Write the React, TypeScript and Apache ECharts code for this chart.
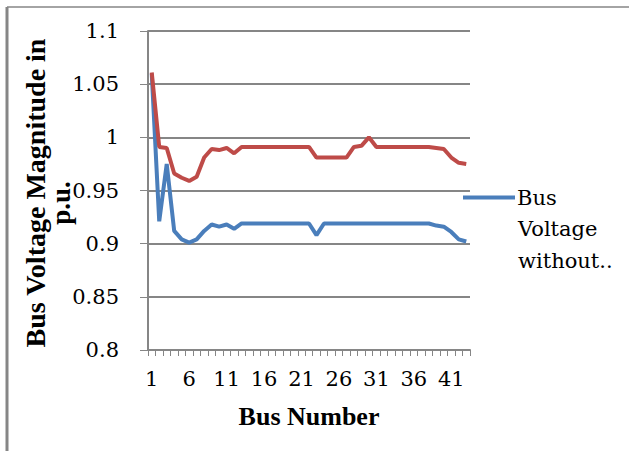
import React, { useEffect, useRef } from "react";
import * as echarts from "echarts";

const busNumbers: string[] = [
  "1", "2", "3", "4", "5", "6", "7", "8", "9", "10",
  "11", "12", "13", "14", "15", "16", "17", "18", "19", "20",
  "21", "22", "23", "24", "25", "26", "27", "28", "29", "30",
  "31", "32", "33", "34", "35", "36", "37", "38", "39", "40",
  "41", "42", "43",
];

const voltageWithout: number[] = [
  1.06, 0.921, 0.975, 0.912, 0.904, 0.901, 0.904, 0.912, 0.918, 0.916,
  0.918, 0.914, 0.919, 0.919, 0.919, 0.919, 0.919, 0.919, 0.919, 0.919,
  0.919, 0.919, 0.908, 0.919, 0.919, 0.919, 0.919, 0.919, 0.919, 0.919,
  0.919, 0.919, 0.919, 0.919, 0.919, 0.919, 0.919, 0.919, 0.917, 0.916,
  0.911, 0.904, 0.902,
];

const voltageWith: number[] = [
  1.061, 0.991, 0.99, 0.966, 0.962, 0.959, 0.963, 0.981, 0.989, 0.988,
  0.99, 0.985, 0.991, 0.991, 0.991, 0.991, 0.991, 0.991, 0.991, 0.991,
  0.991, 0.991, 0.981, 0.981, 0.981, 0.981, 0.981, 0.991, 0.992, 1.0,
  0.991, 0.991, 0.991, 0.991, 0.991, 0.991, 0.991, 0.991, 0.99, 0.989,
  0.981, 0.976, 0.975,
];

const FONT = "DejaVu Serif";
const FONT_BOLD = "Liberation Serif";
const GRAY = "#868686";

export default function App() {
  const ref = useRef<HTMLDivElement>(null);
  useEffect(() => {
    if (!ref.current) return;
    const chart = echarts.init(ref.current, undefined, { renderer: "svg" });
    chart.setOption({
      animation: false,
      backgroundColor: "#ffffff",
      grid: { left: 148, right: 159, top: 31, bottom: 101, containLabel: false },
      legend: {
        data: [{ name: "Bus Voltage without DG", icon: "rect" }],
        left: 463,
        top: 187,
        padding: 0,
        itemWidth: 52,
        itemHeight: 4,
        itemGap: 0,
        formatter: () => "Bus",
        textStyle: { fontFamily: FONT, fontSize: 21, color: "#000", padding: [0, 0, 0, -3] },
      },
      xAxis: {
        type: "category",
        data: busNumbers,
        boundaryGap: true,
        axisLine: { lineStyle: { color: GRAY, width: 2 } },
        axisTick: { show: true, interval: 0, length: 6, lineStyle: { color: GRAY, width: 1 } },
        axisLabel: { interval: 4, margin: 18, fontFamily: FONT, fontSize: 21, color: "#000" },
        name: "Bus Number",
        nameLocation: "middle",
        nameGap: 53,
        nameTextStyle: { fontFamily: FONT_BOLD, fontSize: 26, fontWeight: "bold", color: "#000" },
      },
      yAxis: {
        type: "value",
        min: 0.8,
        max: 1.1,
        interval: 0.05,
        axisLine: { show: true, lineStyle: { color: GRAY, width: 2 } },
        axisTick: { show: true, length: 8, lineStyle: { color: GRAY, width: 1 } },
        axisLabel: { margin: 29, fontFamily: FONT, fontSize: 21, color: "#000" },
        splitLine: { lineStyle: { color: GRAY, width: 2 } },
      },
      series: [
        {
          name: "Bus Voltage without DG",
          type: "line",
          data: voltageWithout,
          symbol: "none",
          lineStyle: { color: "#4a7ebb", width: 4 },
          itemStyle: { color: "#4a7ebb" },
        },
        {
          name: "Bus Voltage with DG",
          type: "line",
          data: voltageWith,
          symbol: "none",
          lineStyle: { color: "#be4b48", width: 4 },
          itemStyle: { color: "#be4b48" },
        },
      ],
      graphic: [
        { type: "line", shape: { x1: 7, y1: 7, x2: 629, y2: 7 }, style: { stroke: GRAY, lineWidth: 1.5 } },
        { type: "line", shape: { x1: 7, y1: 7, x2: 7, y2: 451 }, style: { stroke: GRAY, lineWidth: 3 } },
        {
          type: "text",
          x: 35,
          y: 193,
          rotation: Math.PI / 2,
          style: {
            text: "Bus Voltage Magnitude in",
            fontFamily: FONT_BOLD,
            fontSize: 28,
            fontWeight: "bold",
            fill: "#000",
            align: "center",
            verticalAlign: "middle",
          },
        },
        {
          type: "text",
          x: 61,
          y: 203,
          rotation: Math.PI / 2,
          style: {
            text: "p.u.",
            fontFamily: FONT_BOLD,
            fontSize: 27,
            fontWeight: "bold",
            fill: "#000",
            align: "center",
            verticalAlign: "middle",
          },
        },
        {
          type: "text",
          x: 518,
          y: 229,
          style: { text: "Voltage", fontFamily: FONT, fontSize: 21, fill: "#000", align: "left", verticalAlign: "middle" },
        },
        {
          type: "text",
          x: 518,
          y: 261,
          style: { text: "without..", fontFamily: FONT, fontSize: 21, fill: "#000", align: "left", verticalAlign: "middle" },
        },
      ],
    });
    return () => chart.dispose();
  }, []);
  return <div ref={ref} style={{ width: 629, height: 451, position: "absolute", left: 0, top: 0 }} />;
}
